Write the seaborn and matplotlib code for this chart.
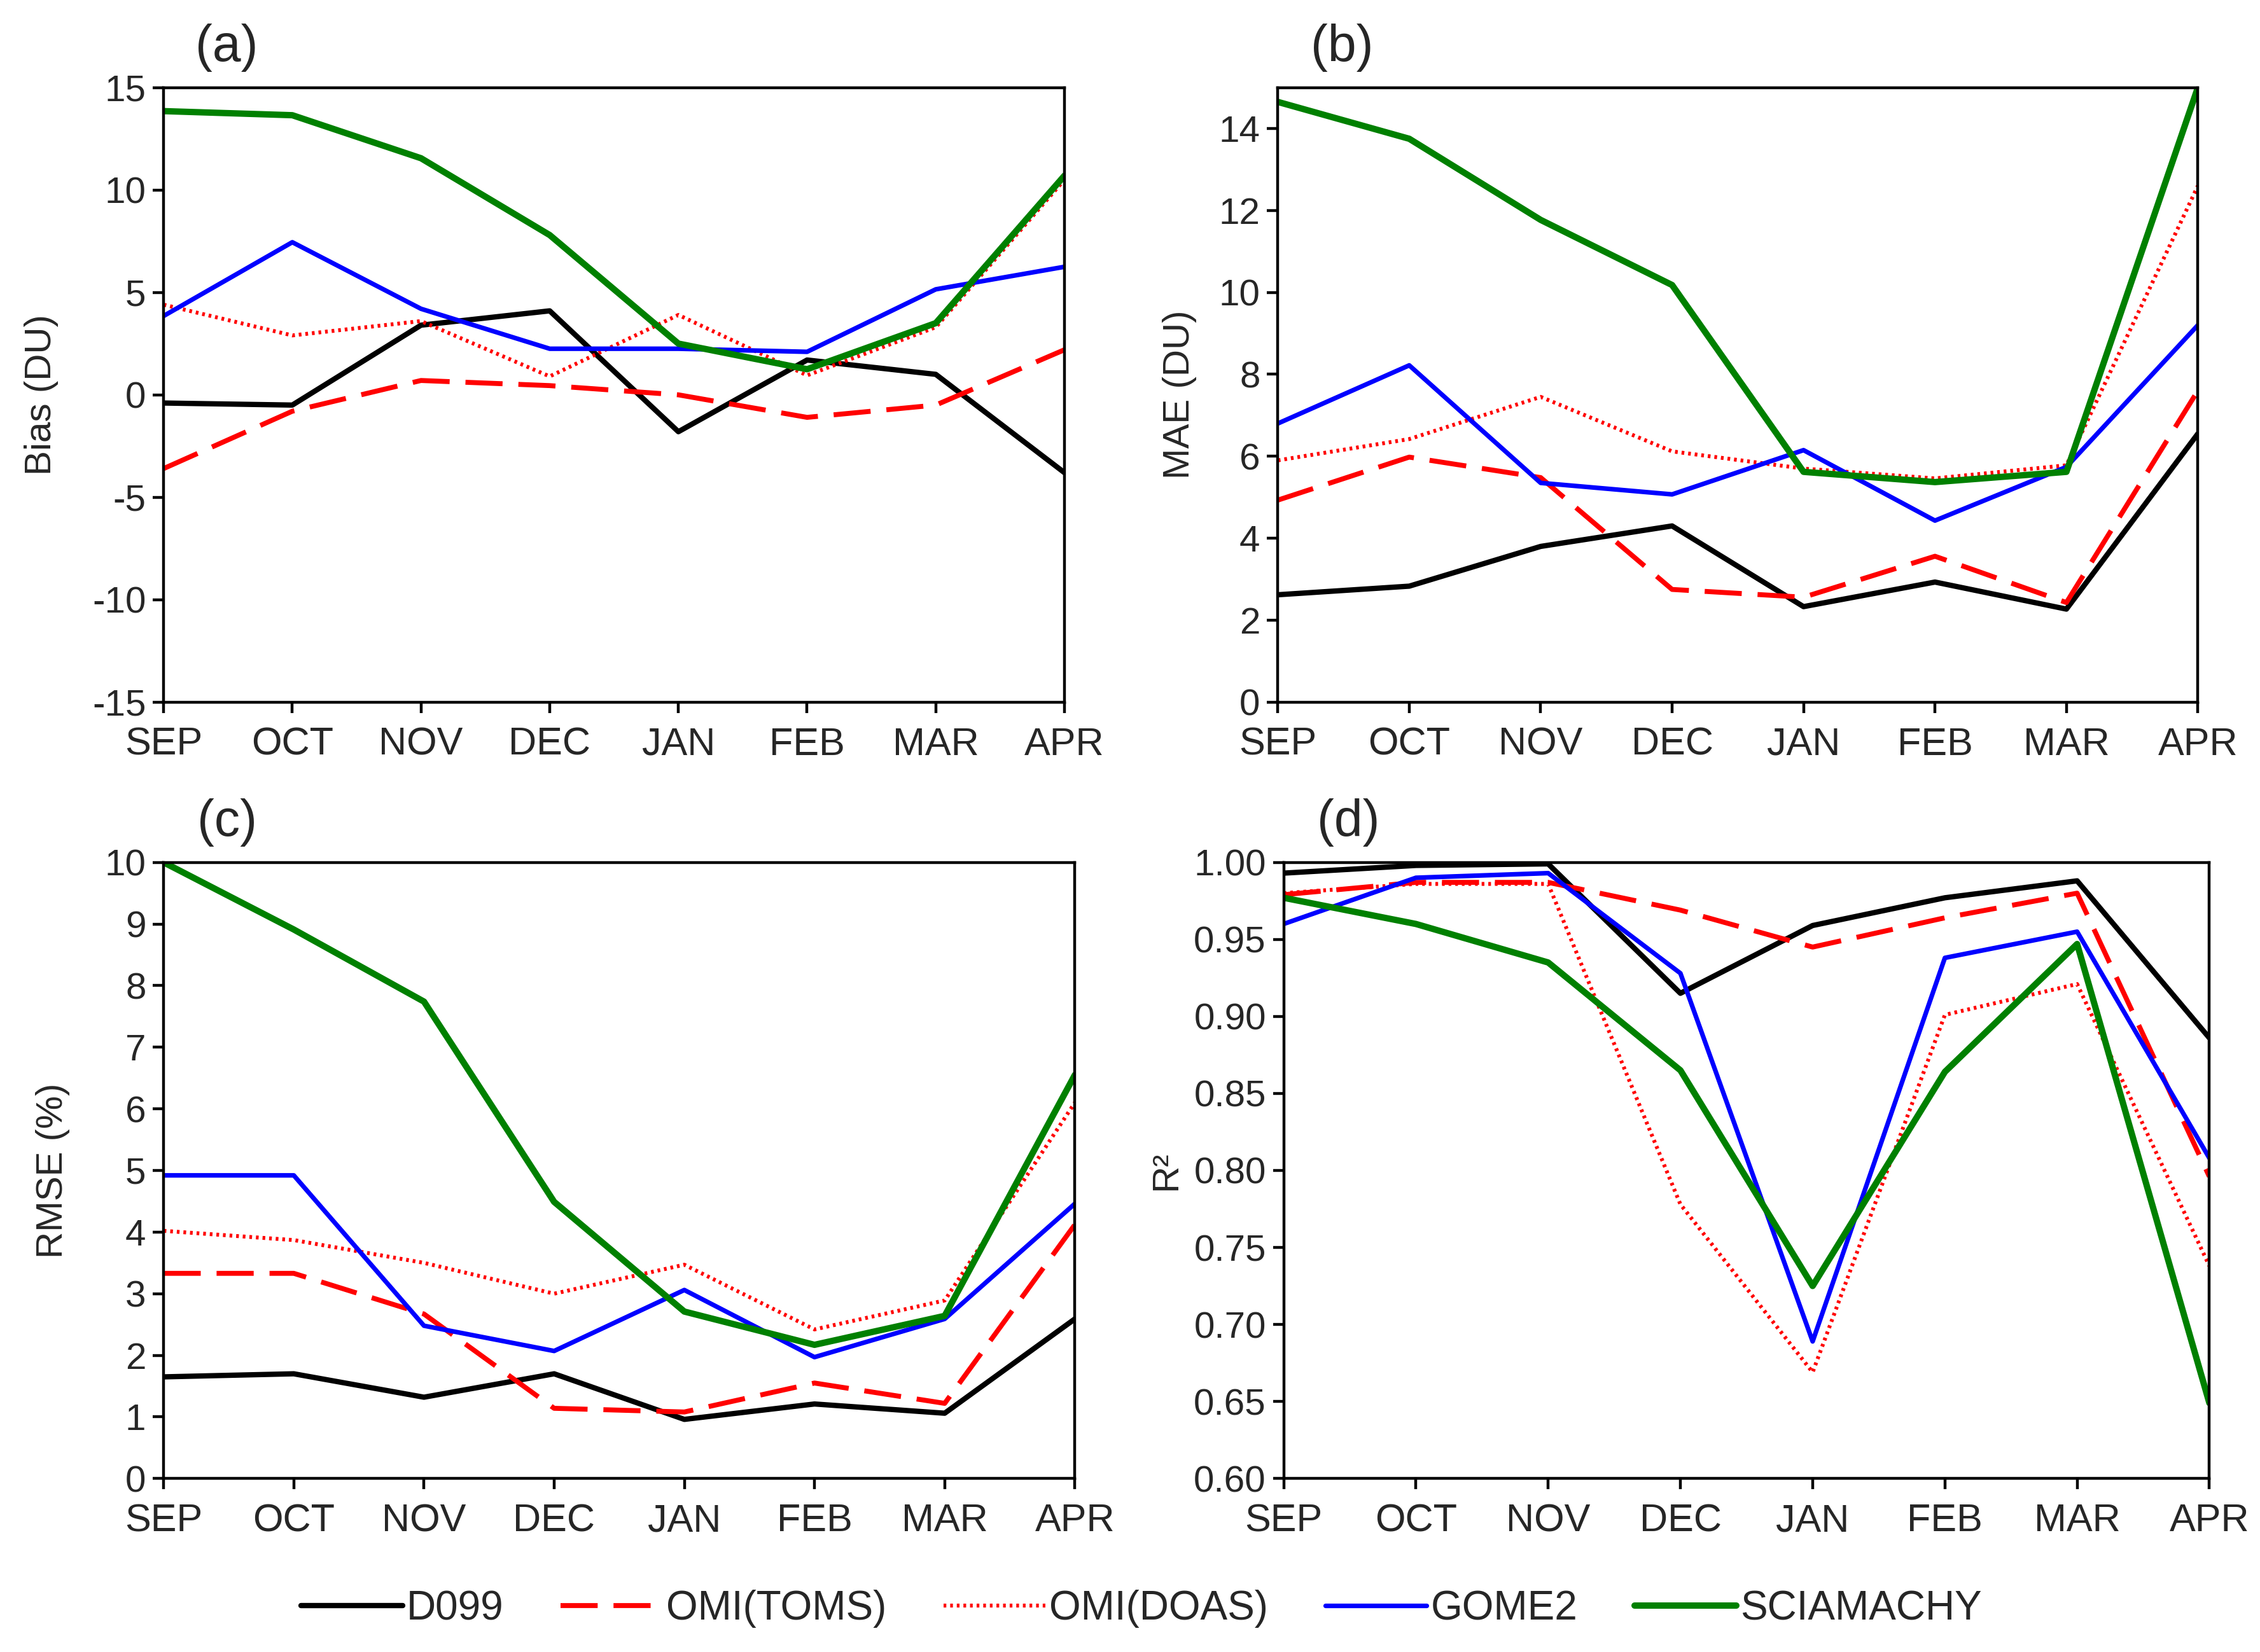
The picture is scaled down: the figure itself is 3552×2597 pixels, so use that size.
import matplotlib
matplotlib.use('Agg')
import matplotlib.pyplot as plt
import seaborn as sns
import numpy as np
from matplotlib.lines import Line2D

# Month labels
months = ['SEP', 'OCT', 'NOV', 'DEC', 'JAN', 'FEB', 'MAR', 'APR']
series = ['D099', 'OMI(TOMS)', 'OMI(DOAS)', 'GOME2', 'SCIAMACHY']

# (a) Bias (DU)
bias_d099 = [-0.4, -0.5, 3.4, 4.1, -1.8, 1.7, 1.0, -3.8]
bias_toms = [-3.6, -0.8, 0.7, 0.45, 0.0, -1.1, -0.5, 2.2]
bias_doas = [4.4, 2.9, 3.6, 0.9, 3.9, 0.95, 3.3, 10.5]
bias_gome2 = [3.85, 7.45, 4.2, 2.25, 2.25, 2.1, 5.15, 6.25]
bias_scia = [13.85, 13.65, 11.55, 7.8, 2.5, 1.25, 3.5, 10.7]

# (b) MAE (DU)
mae_d099 = [2.62, 2.83, 3.8, 4.3, 2.33, 2.93, 2.27, 6.55]
mae_toms = [4.93, 5.98, 5.48, 2.75, 2.56, 3.56, 2.43, 7.6]
mae_doas = [5.9, 6.42, 7.45, 6.12, 5.7, 5.46, 5.78, 12.6]
mae_gome2 = [6.8, 8.22, 5.35, 5.07, 6.15, 4.43, 5.74, 9.2]
mae_scia = [14.65, 13.75, 11.77, 10.18, 5.62, 5.37, 5.62, 15.0]

# (c) RMSE (%)
rmse_d099 = [1.65, 1.7, 1.32, 1.7, 0.96, 1.21, 1.06, 2.59]
rmse_toms = [3.33, 3.33, 2.67, 1.14, 1.08, 1.55, 1.22, 4.12]
rmse_doas = [4.02, 3.87, 3.5, 3.0, 3.47, 2.42, 2.89, 6.1]
rmse_gome2 = [4.92, 4.92, 2.48, 2.07, 3.06, 1.97, 2.59, 4.46]
rmse_scia = [10.0, 8.91, 7.74, 4.49, 2.71, 2.17, 2.64, 6.55]

# (d) R2
r2_d099 = [0.993, 0.998, 0.999, 0.915, 0.959, 0.977, 0.988, 0.886]
r2_toms = [0.979, 0.987, 0.987, 0.969, 0.945, 0.964, 0.980, 0.796]
r2_doas = [0.980, 0.986, 0.986, 0.778, 0.669, 0.901, 0.921, 0.738]
r2_gome2 = [0.960, 0.990, 0.993, 0.928, 0.689, 0.938, 0.955, 0.808]
r2_scia = [0.977, 0.960, 0.935, 0.865, 0.725, 0.864, 0.947, 0.649]

sns.set_theme(style='ticks')
plt.rcParams['font.family'] = ['Liberation Sans', 'DejaVu Sans']

styles = {
    'D099': dict(color='black', lw=3.0, ls='-'),
    'OMI(TOMS)': dict(color='#ff0000', lw=2.8, ls=(0, (7.5, 3.2))),
    'OMI(DOAS)': dict(color='#ff0000', lw=2.2, ls=(0, (0.7, 1.0))),
    'GOME2': dict(color='#0000ff', lw=2.6, ls='-'),
    'SCIAMACHY': dict(color='#008000', lw=3.6, ls='-'),
}

# tag, y label, series values, y limits, y ticks, tick format, axes rect, y-label x position
panels = [
    ('(a)', 'Bias (DU)', [bias_d099, bias_toms, bias_doas, bias_gome2, bias_scia],
     (-15, 15), np.arange(-15, 16, 5), '{:.0f}', [0.0724, 0.575, 0.3986, 0.372], -0.117),
    ('(b)', 'MAE (DU)', [mae_d099, mae_toms, mae_doas, mae_gome2, mae_scia],
     (0, 15), np.arange(0, 15, 2), '{:.0f}', [0.5654, 0.575, 0.4071, 0.372], -0.088),
    ('(c)', 'RMSE (%)', [rmse_d099, rmse_toms, rmse_doas, rmse_gome2, rmse_scia],
     (0, 10), np.arange(0, 11, 1), '{:.0f}', [0.0724, 0.105, 0.4032, 0.373], -0.103),
    ('(d)', 'R²', [r2_d099, r2_toms, r2_doas, r2_gome2, r2_scia],
     (0.6, 1.0), np.arange(0.60, 1.001, 0.05), '{:.2f}', [0.568, 0.105, 0.4096, 0.373], -0.108),
]

fig = plt.figure(figsize=(17.76, 12.985), dpi=200)
x = np.arange(len(months))

for tag, ylabel, data, ylim, yticks, fmt, rect, ylx in panels:
    ax = fig.add_axes(rect)
    for name, vals in zip(series, data):
        st = styles[name]
        sns.lineplot(x=x, y=vals, ax=ax, color=st['color'], linewidth=st['lw'],
                     linestyle=st['ls'], sort=False, legend=False)
    ax.set_xlim(0, 7)
    ax.set_ylim(*ylim)
    ax.set_xticks(x)
    ax.set_xticklabels(months, fontsize=22)
    ax.set_yticks(yticks)
    ax.set_yticklabels([fmt.format(v) for v in yticks], fontsize=21)
    ax.set_ylabel(ylabel, fontsize=21)
    ax.yaxis.set_label_coords(ylx, 0.5)
    ax.set_xlabel('')
    for sp in ax.spines.values():
        sp.set_visible(True)
        sp.set_linewidth(1.6)
        sp.set_color('black')
    ax.tick_params(axis='both', direction='out', length=6, width=1.6, color='black')
    ax.tick_params(axis='x', pad=8)
    ax.tick_params(axis='y', pad=4)
    ax.text(0.07, 1.065, tag, transform=ax.transAxes, ha='center', va='center', fontsize=29)

handles = [Line2D([0], [0], color=styles[n]['color'], lw=styles[n]['lw'],
                  ls=styles[n]['ls']) for n in series]
fig.legend(handles, series, loc='center', bbox_to_anchor=(0.505, 0.026), ncol=5,
           frameon=False, handlelength=2.5, handletextpad=0.1, columnspacing=1.4,
           prop={'size': 23})

fig.savefig('out.png', dpi=200)
